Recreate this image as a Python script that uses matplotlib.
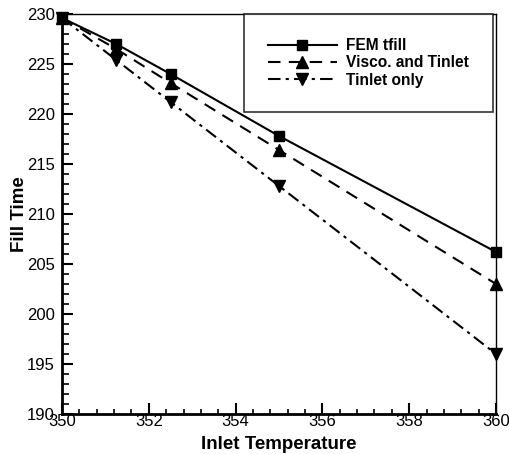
import numpy as np
import matplotlib.pyplot as plt
from matplotlib.ticker import MultipleLocator

plt.rcParams['font.family'] = ['Liberation Sans', 'DejaVu Sans']

# inlet temperature vs fill time
temp = [350.0, 351.25, 352.5, 355.0, 360.0]
fem_tfill = [229.6, 227.0, 224.0, 217.8, 206.2]
visco_tinlet = [229.6, 226.5, 223.1, 216.4, 203.0]
tinlet_only = [229.6, 225.4, 221.2, 212.8, 196.0]

fig = plt.figure(figsize=(5.09, 4.54), dpi=100)
ax = fig.add_axes([0.1218, 0.0881, 0.8527, 0.8811])

ax.plot(temp, fem_tfill, color='black', lw=1.5, ls='-', marker='s',
        ms=7, label='FEM tfill', clip_on=False, zorder=3)
ax.plot(temp, visco_tinlet, color='black', lw=1.5, ls=(0, (6, 4)), marker='^',
        ms=8, label='Visco. and Tinlet', clip_on=False, zorder=3)
ax.plot(temp, tinlet_only, color='black', lw=1.5, ls=(0, (6, 2.5, 1.5, 2.5)),
        marker='v', ms=8, label='Tinlet only', clip_on=False, zorder=3)

ax.set_xlim(350, 360)
ax.set_ylim(190, 230)
ax.xaxis.set_major_locator(MultipleLocator(2))
ax.xaxis.set_minor_locator(MultipleLocator(0.4))
ax.yaxis.set_major_locator(MultipleLocator(5))
ax.yaxis.set_minor_locator(MultipleLocator(1))
ax.tick_params(which='both', direction='in', top=False, right=False,
               width=1.5, labelsize=12)
ax.tick_params(which='major', length=8)
ax.tick_params(which='minor', length=5, width=1.2)
ax.tick_params(axis='x', which='minor', length=3.5)
ax.tick_params(axis='x', pad=0)
ax.tick_params(axis='y', pad=5)

for s in ['left', 'bottom']:
    ax.spines[s].set_linewidth(2)
for s in ['top', 'right']:
    ax.spines[s].set_linewidth(1)

ax.set_xlabel('Inlet Temperature', fontsize=13.5, fontweight='bold', labelpad=5)
ax.set_ylabel('Fill Time', fontsize=13.5, fontweight='bold', labelpad=-1)

leg = ax.legend(loc='upper right', bbox_to_anchor=(0.993, 1.0), borderaxespad=0,
                frameon=True, fancybox=False, edgecolor='black', handlelength=4.4,
                borderpad=1.55, labelspacing=0.15, handletextpad=0.6,
                prop={'weight': 'bold', 'size': 11.2})
leg.get_frame().set_linewidth(1.2)

fig.savefig('out.png', dpi=100)
